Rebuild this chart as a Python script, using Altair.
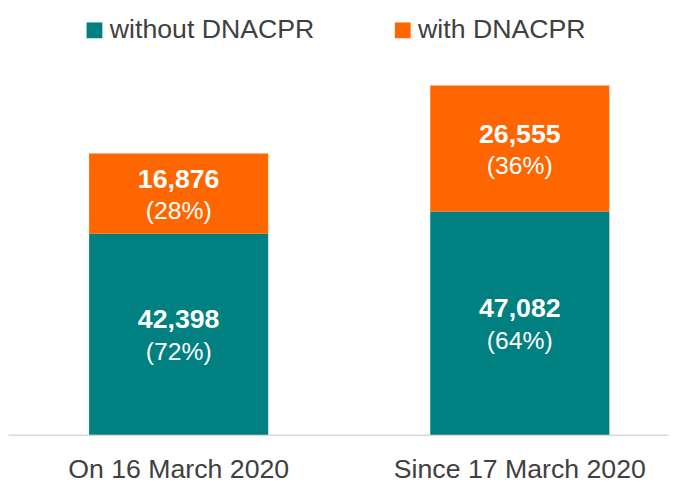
import altair as alt
import pandas as pd

categories = ["On 16 March 2020", "Since 17 March 2020"]
series = ["without DNACPR", "with DNACPR"]
without_vals = [42398, 47082]
with_vals = [16876, 26555]
without_pct = ["(72%)", "(64%)"]
with_pct = ["(28%)", "(36%)"]
colors = ["#008080", "#FF6600"]

rows = []
for i, c in enumerate(categories):
    rows.append({"cat": c, "series": series[0], "value": without_vals[i], "pct": without_pct[i], "order": 0})
    rows.append({"cat": c, "series": series[1], "value": with_vals[i], "pct": with_pct[i], "order": 1})
df = pd.DataFrame(rows)

FONT = "Liberation Sans"

base = alt.Chart(df).transform_stack(
    stack="value", groupby=["cat"], as_=["y0", "y1"], sort=[alt.SortField("order")]
).transform_calculate(mid="(datum.y0 + datum.y1) / 2")

x_enc = alt.X(
    "cat:N",
    sort=categories,
    title=None,
    scale=alt.Scale(paddingInner=0.475, paddingOuter=0.205, align=0.58),
    axis=alt.Axis(
        labelAngle=0, labelFontSize=27, labelFont=FONT, labelColor="#404040",
        labelLimit=0, ticks=False, domainColor="#d9d9d9", domainWidth=1.5,
        labelPadding=22,
    ),
)
y_scale = alt.Scale(domain=[0, 80000])

bars = base.mark_bar().encode(
    x=x_enc,
    y=alt.Y("y0:Q", scale=y_scale, axis=None),
    y2="y1:Q",
    color=alt.Color(
        "series:N",
        scale=alt.Scale(domain=series, range=colors),
        legend=alt.Legend(
            title=None, orient="none", direction="horizontal",
            legendX=74, legendY=-39,
            symbolType="square", symbolSize=256, symbolStrokeWidth=0,
            labelFontSize=27, labelFont=FONT, labelColor="#404040",
            labelLimit=0, labelOffset=2, columnPadding=75,
        ),
    ),
)

val_text = base.mark_text(
    dy=-14, fontSize=27, fontWeight="bold", color="white", font=FONT
).encode(
    x=alt.X("cat:N", sort=categories),
    y=alt.Y("mid:Q", scale=y_scale),
    text=alt.Text("value:Q", format=","),
)

pct_text = base.mark_text(
    dy=18, fontSize=25, color="white", font=FONT
).encode(
    x=alt.X("cat:N", sort=categories),
    y=alt.Y("mid:Q", scale=y_scale),
    text="pct:N",
)

chart = alt.layer(bars, val_text, pct_text).properties(
    width=668, height=384,
    background="white",
    autosize=alt.AutoSizeParams(type="none"),
    padding={"left": 0, "top": 45, "right": 7, "bottom": 47},
).configure_view(strokeWidth=0, stroke=None)

chart.save("out.html", embed_options={"renderer": "svg", "actions": False})
